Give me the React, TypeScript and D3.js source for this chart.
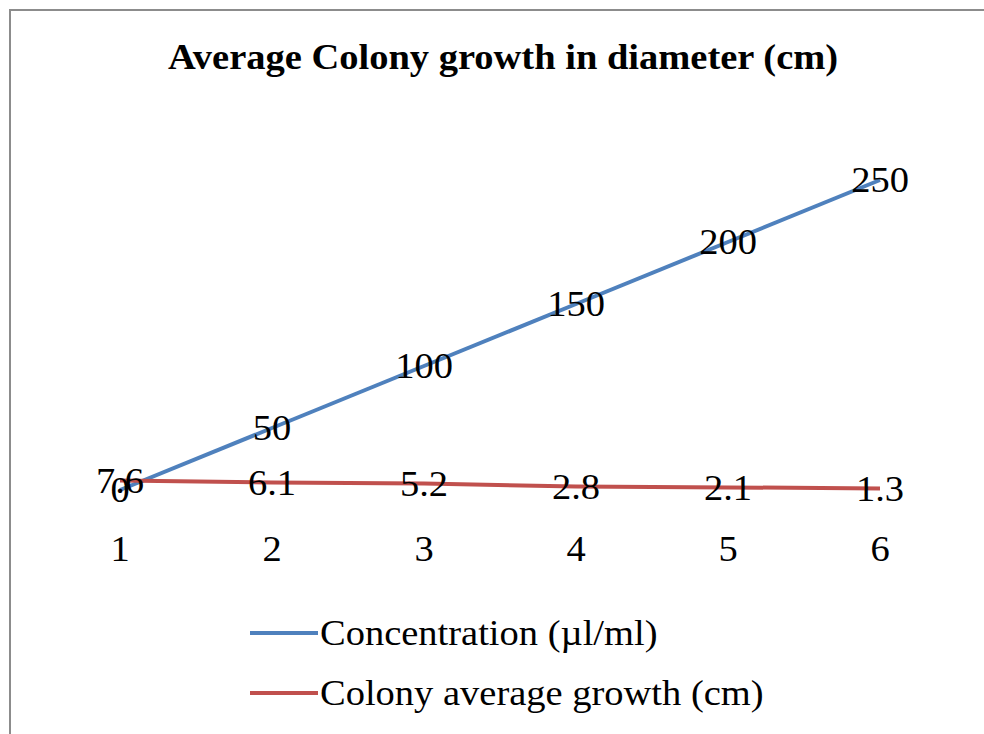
import React from "react";
import * as d3 from "d3";

const categories = [1, 2, 3, 4, 5, 6];
const concentration = [0, 50, 100, 150, 200, 250];
const colonyGrowth = [7.6, 6.1, 5.2, 2.8, 2.1, 1.3];
const seriesNames = ["Concentration (µl/ml)", "Colony average growth (cm)"];
const title = "Average Colony growth in diameter (cm)";

const W = 984;
const H = 734;
const FONT = "'Liberation Serif', 'Times New Roman', serif";
const BLUE = "#4F81BD";
const RED = "#C0504D";
const FS = 35;
const SX = 1.1;

function T(props: {
  x: number;
  y: number;
  anchor?: "start" | "middle" | "end";
  bold?: boolean;
  children: React.ReactNode;
}) {
  return (
    <text
      transform={`translate(${props.x},${props.y}) scale(${SX},1)`}
      dy="0.35em"
      textAnchor={props.anchor || "middle"}
      fontWeight={props.bold ? "bold" : "normal"}
      fontSize={FS}
      fill="#000"
    >
      {props.children}
    </text>
  );
}

export default function App() {
  const x = d3.scalePoint<number>().domain(categories).range([120, 880]);
  const y = d3.scaleLinear().domain([0, 250]).range([490, 180]);
  const line = d3
    .line<number>()
    .x((_, i) => x(categories[i]) as number)
    .y((d) => y(d));
  const series = [
    { name: seriesNames[0], values: concentration, color: BLUE, fmt: (v: number) => String(v) },
    { name: seriesNames[1], values: colonyGrowth, color: RED, fmt: (v: number) => v.toFixed(1) },
  ];
  return (
    <svg
      width={W}
      height={H}
      style={{ position: "absolute", left: 0, top: 0, background: "#fff" }}
      fontFamily={FONT}
    >
      <rect x={10} y={10} width={W + 20} height={H + 20} fill="#fff" stroke="#8c8c8c" strokeWidth={2} />
      <T x={503} y={57} bold>
        {title}
      </T>
      {series.map((s) => (
        <path key={s.name} d={line(s.values) || ""} fill="none" stroke={s.color} strokeWidth={4} />
      ))}
      {series.map((s) =>
        s.values.map((v, i) => (
          <T key={s.name + i} x={x(categories[i]) as number} y={y(v)}>
            {s.fmt(v)}
          </T>
        ))
      )}
      {categories.map((c) => (
        <T key={c} x={x(c) as number} y={549}>
          {c}
        </T>
      ))}
      {series.map((s, i) => (
        <g key={s.name}>
          <line x1={250} x2={318} y1={633 + i * 60} y2={633 + i * 60} stroke={s.color} strokeWidth={4} />
          <T x={320} y={633 + i * 60} anchor="start">
            {s.name}
          </T>
        </g>
      ))}
    </svg>
  );
}
